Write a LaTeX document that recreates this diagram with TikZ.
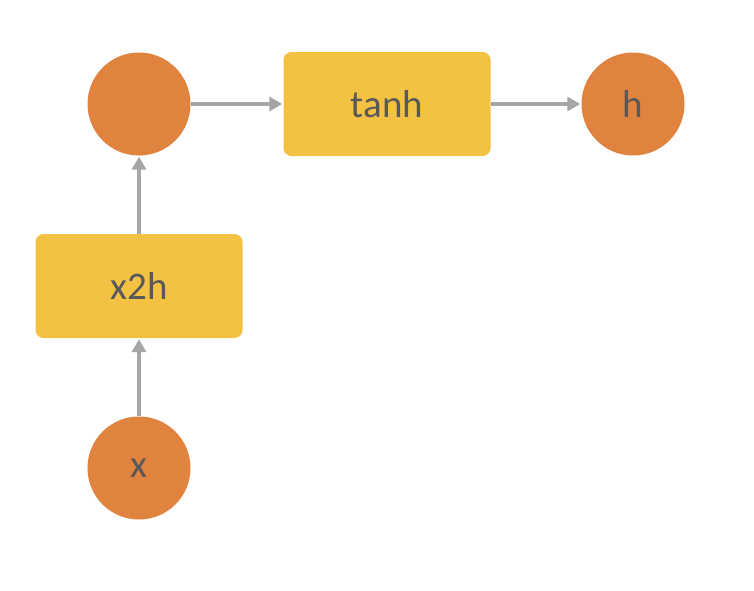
\documentclass[tikz,border=0pt]{standalone}
\usepackage{fontspec}
\setmainfont{Carlito}
\usetikzlibrary{arrows.meta}
\definecolor{orng}{HTML}{E0833F}
\definecolor{ylw}{HTML}{F4C242}
\definecolor{txt}{HTML}{595959}
\definecolor{arr}{HTML}{A6A6A6}
\tikzset{
  circ/.style={circle,fill=orng,minimum size=103pt,inner sep=0pt,text=txt,font=\fontsize{39}{44}\selectfont},
  boxn/.style={rectangle,rounded corners=8pt,fill=ylw,minimum width=207pt,minimum height=104pt,inner sep=0pt,text=txt,font=\fontsize{39}{44}\selectfont},
  conn/.style={draw=arr,line width=4pt,-{Triangle[length=13pt,width=14pt]},shorten >=1pt}
}
\begin{document}
\begin{tikzpicture}[x=1pt,y=-1pt]
\useasboundingbox[fill=white] (0,0) rectangle (754,590);
\node[circ] (s) at (139,104) {};
\node[boxn] (t) at (387,104) {tanh};
\node[circ] (h) at (633,104) {h};
\node[boxn] (x2h) at (139,286) {x2h};
\node[circ] (x) at (139,468) {x};
\draw[conn] (s) -- (t);
\draw[conn] (t) -- (h);
\draw[conn] (x2h) -- (s);
\draw[conn] (x) -- (x2h);
\end{tikzpicture}
\end{document}
